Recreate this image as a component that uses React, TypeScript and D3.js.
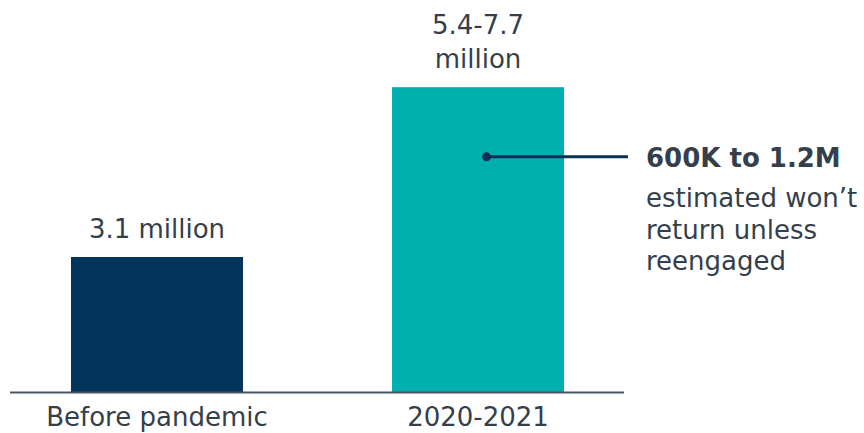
import React from "react";
import * as d3 from "d3";

const categories = ["Before pandemic", "2020-2021"];
const values = [3.1, 7.0];
const valueLabels = [["3.1 million"], ["5.4-7.7", "million"]];
const barColors = ["#02345c", "#00b0ae"];
const annotationTitle = "600K to 1.2M";
const annotationLines = ["estimated won’t", "return unless", "reengaged"];
const annotationValue = 5.4;

const W = 864;
const H = 433;
const FONT = "'DejaVu Sans', Verdana, sans-serif";
const TEXT = "#343f4b";

export default function App() {
  const x = d3
    .scaleBand<string>()
    .domain(categories)
    .range([-3.5, 638.5])
    .paddingInner(0.464)
    .paddingOuter(0.232);
  const y = d3.scaleLinear().domain([0, 3.1]).range([392, 257]);
  const baseY = y(0);
  const annY = y(annotationValue);
  const bar2 = categories[1];
  const dotX = (x(bar2) as number) + x.bandwidth() * 0.55;

  return (
    <svg width={W} height={H} style={{ position: "absolute", left: 0, top: 0, background: "#fff" }}>
      {categories.map((c, i) => (
        <rect
          key={c}
          x={x(c)}
          y={y(values[i])}
          width={x.bandwidth()}
          height={baseY - y(values[i])}
          fill={barColors[i]}
        />
      ))}
      <line x1={10} x2={624} y1={baseY + 0.5} y2={baseY + 0.5} stroke="#4a5561" strokeWidth={2} />
      {categories.map((c, i) => {
        const cx = (x(c) as number) + x.bandwidth() / 2;
        const lines = valueLabels[i];
        const top = y(values[i]);
        return (
          <g key={"l" + c}>
            {lines.map((t, j) => (
              <text
                key={j}
                x={cx}
                y={top - 19 - (lines.length - 1 - j) * 34}
                textAnchor="middle"
                fontFamily={FONT}
                fontSize={26}
                fill={TEXT}
              >
                {t}
              </text>
            ))}
            <text x={cx} y={426} textAnchor="middle" fontFamily={FONT} fontSize={26} fill={TEXT}>
              {c}
            </text>
          </g>
        );
      })}
      <line x1={dotX} x2={628} y1={annY} y2={annY} stroke="#0b3156" strokeWidth={3} />
      <circle cx={dotX} cy={annY} r={4.5} fill="#0b3156" />
      <text x={646} y={167} fontFamily={FONT} fontSize={26} fontWeight="bold" fill={TEXT}>
        {annotationTitle}
      </text>
      {annotationLines.map((t, j) => (
        <text key={t} x={646} y={207 + j * 31.5} fontFamily={FONT} fontSize={26} fill={TEXT}>
          {t}
        </text>
      ))}
    </svg>
  );
}
